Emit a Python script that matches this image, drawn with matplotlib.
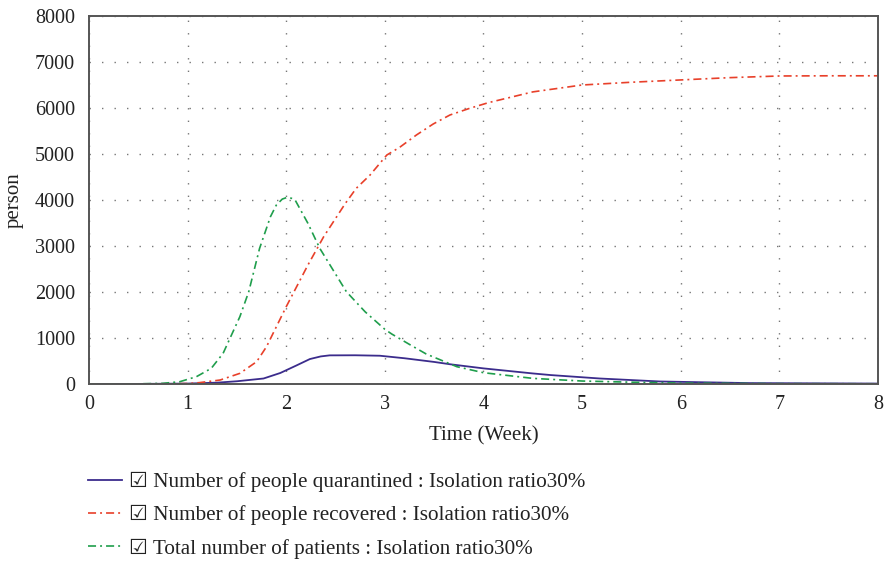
"""
Recreate the isolation-ratio 30% epidemic curves (quarantined, recovered,
total patients) over 8 weeks.
"""

import matplotlib
matplotlib.use("Agg")
import matplotlib.pyplot as plt
from matplotlib.font_manager import FontProperties

# =============================================================================
# DATA
# =============================================================================

quar_t = [0, 0.5, 1.0, 1.3, 1.5, 1.77, 1.94, 2.1, 2.24, 2.35, 2.44, 2.7, 2.95,
          3.2, 3.5, 3.66, 4.0, 4.5, 4.68, 5.18, 5.79, 6.7, 8.0]
quar_v = [0, 2, 10, 30, 60, 120, 240, 400, 543, 600, 623, 625, 615,
          560, 480, 430, 340, 230, 195, 120, 55, 20, 10]

recov_t = [0, 0.5, 1.0, 1.12, 1.33, 1.53, 1.7, 1.8, 1.9, 2.0, 2.22, 2.38, 2.6,
           2.71, 2.85, 3.02, 3.15, 3.32, 3.49, 3.66, 3.86, 4.05, 4.5, 5.0,
           5.5, 6.0, 6.5, 7.0, 7.5, 8.0]
recov_v = [0, 0, 10, 30, 87, 232, 485, 811, 1246, 1681, 2587, 3203, 3928,
           4254, 4543, 4978, 5145, 5413, 5652, 5848, 5993, 6116, 6350, 6500,
           6560, 6610, 6660, 6696, 6700, 6700]

total_t = [0, 0.5, 0.75, 0.92, 1.09, 1.24, 1.36, 1.53, 1.62, 1.73, 1.84, 1.9,
           1.96, 2.0, 2.05, 2.09, 2.22, 2.34, 2.61, 2.8, 3.0, 3.07, 3.26, 3.42,
           3.73, 4.0, 4.5, 5.0, 5.5, 6.0, 7.0, 8.0]
total_v = [0, 4, 15, 50, 160, 341, 667, 1464, 2007, 2950, 3637, 3891,
           4020, 4050, 4040, 4000, 3493, 2950, 2007, 1570, 1189, 1087, 848, 652,
           377, 246, 123, 65, 40, 20, 8, 5]

labels = [
    "\u2611 Number of people quarantined : Isolation ratio30%",
    "\u2611 Number of people recovered : Isolation ratio30%",
    "\u2611 Total number of patients : Isolation ratio30%",
]

x_ticks = list(range(0, 9))
y_ticks = list(range(0, 8001, 1000))

# =============================================================================
# STYLE
# =============================================================================

plt.rcParams["font.family"] = ["Liberation Serif", "DejaVu Sans"]
plt.rcParams["lines.scale_dashes"] = False

BLUE  = "#3b2c8c"
RED   = "#e8402a"
GREEN = "#1f9e4c"
DASHDOT = (0, (5.8, 2.9, 1.4, 2.9))

# =============================================================================
# PLOT
# =============================================================================

fig = plt.figure(figsize=(8.88, 5.63), dpi=100)
ax = fig.add_axes([0.1002, 0.3179, 0.8885, 0.6537])

ax.plot(quar_t, quar_v, color=BLUE, linewidth=1.3, linestyle="-", label=labels[0])
ax.plot(recov_t, recov_v, color=RED, linewidth=1.2, linestyle=DASHDOT, label=labels[1])
ax.plot(total_t, total_v, color=GREEN, linewidth=1.2, linestyle=DASHDOT, label=labels[2])

ax.set_xlim(0, 8)
ax.set_ylim(0, 8000)
ax.set_xticks(x_ticks)
ax.set_yticks(y_ticks)
ax.tick_params(length=0, labelsize=14.5, colors="#222222")
ax.tick_params(axis="y", pad=10)
ax.tick_params(axis="x", pad=8)

for s in ax.spines.values():
    s.set_color("#555555")
    s.set_linewidth(1.4)

ax.grid(True, color="#777777", linewidth=1.0, linestyle=(0, (1, 8)))

ax.set_xlabel("Time (Week)", fontsize=15, color="#222222", labelpad=9)
ax.set_ylabel("person", fontsize=15, color="#222222", labelpad=8)

leg = ax.legend(loc="upper left", bbox_to_anchor=(88 / 888, 1 - 472 / 563),
                bbox_transform=fig.transFigure, frameon=False,
                prop=FontProperties(family=["Liberation Serif", "DejaVu Sans"], size=15.2),
                handlelength=1.6, handletextpad=0.35, labelspacing=0.62,
                borderpad=0, borderaxespad=0)
for t in leg.get_texts():
    t.set_color("#222222")

fig.savefig("out.png", dpi=100)
plt.close(fig)
print("Saved out.png")
